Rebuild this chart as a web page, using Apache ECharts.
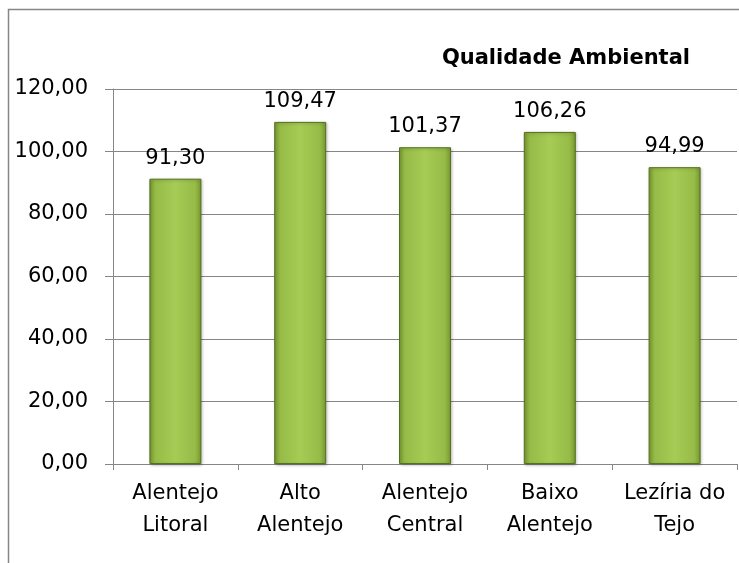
<!DOCTYPE html>
<html>
<head>
<meta charset="utf-8">
<script src="https://cdn.jsdelivr.net/npm/echarts@6/dist/echarts.min.js"></script>
<style>
  html, body { margin: 0; padding: 0; background: #fff; }
  #chart { width: 739px; height: 563px; }
</style>
</head>
<body>
<div id="chart"></div>
<script>
const categories = ['Alentejo\nLitoral', 'Alto\nAlentejo', 'Alentejo\nCentral', 'Baixo\nAlentejo', 'Lezíria do\nTejo']
const values = [91.30, 109.47, 101.37, 106.26, 94.99]
const titleText = 'Qualidade Ambiental'

const fmt = v => v.toFixed(2).replace('.', ',')
const font = '"DejaVu Sans", "Noto Sans", sans-serif'

const chart = echarts.init(document.getElementById('chart'))

chart.setOption({
  animation: false,
  textStyle: { fontFamily: font },
  title: {
    text: titleText,
    right: 44,
    top: 43,
    textStyle: { fontSize: 21, fontWeight: 'bold', color: '#000', fontFamily: font }
  },
  graphic: [{
    type: 'rect',
    shape: { x: 8.5, y: 9.5, width: 800, height: 600 },
    style: { fill: 'none', stroke: '#868686', lineWidth: 1.5 },
    silent: true
  }],
  grid: {
    left: 113,
    right: 2,
    top: 89,
    bottom: 99
  },
  xAxis: {
    type: 'category',
    data: categories,
    axisLine: { lineStyle: { color: '#868686', width: 1 } },
    axisTick: { show: true, length: 6, lineStyle: { color: '#868686' } },
    axisLabel: {
      color: '#000',
      fontSize: 21,
      lineHeight: 32,
      margin: 14,
      interval: 0
    }
  },
  yAxis: {
    type: 'value',
    min: 0,
    max: 120,
    interval: 20,
    axisLine: { show: true, lineStyle: { color: '#868686', width: 1 } },
    axisTick: { show: true, length: 8, inside: false, lineStyle: { color: '#868686' } },
    splitLine: { lineStyle: { color: '#868686', width: 1 } },
    axisLabel: {
      color: '#000',
      fontSize: 21,
      margin: 25,
      formatter: v => fmt(v)
    }
  },
  series: [{
    type: 'bar',
    data: values,
    barWidth: 52,
    itemStyle: {
      borderColor: '#55711f',
      borderWidth: 1,
      shadowColor: 'rgba(0,0,0,0.25)',
      shadowBlur: 3,
      shadowOffsetX: 1,
      shadowOffsetY: 1,
      color: new echarts.graphic.LinearGradient(0, 0, 1, 0, [
        { offset: 0, color: '#7c9d33' },
        { offset: 0.12, color: '#96bb47' },
        { offset: 0.5, color: '#a6cc55' },
        { offset: 0.88, color: '#96bb47' },
        { offset: 1, color: '#789830' }
      ])
    },
    label: {
      show: true,
      position: 'top',
      distance: 10,
      color: '#000',
      fontSize: 21,
      fontFamily: font,
      formatter: p => fmt(p.value)
    }
  }]
})
</script>
</body>
</html>
